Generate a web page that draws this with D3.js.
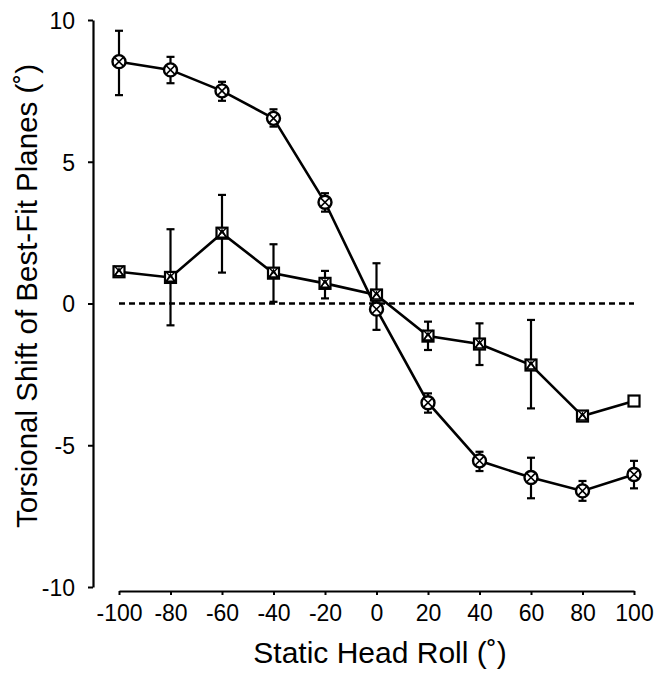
<!DOCTYPE html>
<html>
<head>
<meta charset="utf-8">
<script src="https://cdn.jsdelivr.net/npm/d3@7"></script>
<style>
  body { margin: 0; background: #fff; }
  svg { display: block; }
  text { font-family: "Liberation Sans", Arial, Helvetica, sans-serif; fill: #000; }
</style>
</head>
<body>
<div id="chart"></div>
<script>
// head roll angles (deg)
let rollAngles = [-100, -80, -60, -40, -20, 0, 20, 40, 60, 80, 100];

// circles series (large shift)
let shiftA = [8.53, 8.24, 7.5, 6.53, 3.57, -0.2, -3.5, -5.55, -6.14, -6.61, -6.03];
let aHigh = [9.62, 8.7, 7.82, 6.85, 3.89, 0.1, -3.17, -5.23, -5.44, -6.26, -5.55];
let aLow = [7.35, 7.77, 7.15, 6.24, 3.24, -0.93, -3.85, -5.91, -6.87, -6.96, -6.52];

// squares series (small shift)
let shiftB = [1.12, 0.92, 2.48, 1.07, 0.71, 0.3, -1.15, -1.43, -2.17, -3.97, -3.44];
let bHigh = [1.12, 2.62, 3.83, 2.09, 1.15, 1.42, -0.64, -0.7, -0.58, -3.87, -3.44];
let bLow = [1.12, -0.77, 1.09, 0.06, 0.18, 0.3, -1.64, -2.17, -3.7, -4.07, -3.44];

let yTicks = [-10, -5, 0, 5, 10];
let xTicks = rollAngles;
let zeroLine = [-100, 100];

(function () {
  let width = 668,
    height = 673;

  let svg = d3.select('#chart').append('svg')
    .attr('width', width)
    .attr('height', height);

  let xScale = d3.scaleLinear().domain([-100, 100]).range([119, 634]);
  let yScale = d3.scaleLinear().domain([-10, 10]).range([587, 20]);

  // plain hyphen minus like the original figure
  let fmt = (d) => String(d);

  // y axis
  let yAxis = svg.append('g')
    .attr('transform', 'translate(93,0)')
    .call(d3.axisLeft(yScale).tickValues(yTicks).tickFormat(fmt)
      .tickSize(5).tickSizeOuter(0).tickPadding(13));
  yAxis.select('.domain').attr('stroke-width', 2.2);
  yAxis.selectAll('.tick line').attr('stroke-width', 2);
  yAxis.selectAll('.tick text')
    .style('font-size', '23px')
    .attr('dy', '0.36em');

  // x axis
  let xAxis = svg.append('g')
    .attr('transform', 'translate(0,591)')
    .call(d3.axisBottom(xScale).tickValues(xTicks).tickFormat(fmt)
      .tickSize(4).tickSizeOuter(0).tickPadding(10));
  xAxis.select('.domain').attr('stroke-width', 2.2);
  xAxis.selectAll('.tick line').attr('stroke-width', 2);
  xAxis.selectAll('.tick text')
    .style('font-size', '23px')
    .attr('dy', '0.71em');

  // axis titles
  svg.append('text')
    .attr('x', 380)
    .attr('y', 663)
    .attr('text-anchor', 'middle')
    .style('font-size', '30px')
    .text('Static Head Roll (˚)');

  svg.append('text')
    .attr('transform', 'translate(37,296) rotate(-90)')
    .attr('text-anchor', 'middle')
    .style('font-size', '29.5px')
    .text('Torsional Shift of Best-Fit Planes (˚)');

  // zero reference
  svg.append('line')
    .attr('x1', xScale(zeroLine[0]))
    .attr('x2', xScale(zeroLine[1]))
    .attr('y1', yScale(0))
    .attr('y2', yScale(0))
    .attr('stroke', '#000')
    .attr('stroke-width', 2.5)
    .attr('stroke-dasharray', '6,4');

  let line = d3.line()
    .x((d) => xScale(d[0]))
    .y((d) => yScale(d[1]));

  let seriesA = rollAngles.map((x, i) => [x, shiftA[i], aLow[i], aHigh[i]]);
  let seriesB = rollAngles.map((x, i) => [x, shiftB[i], bLow[i], bHigh[i]]);

  [seriesB, seriesA].forEach((s) => {
    svg.append('path')
      .datum(s)
      .attr('d', line)
      .attr('fill', 'none')
      .attr('stroke', '#000')
      .attr('stroke-width', 2.6);
  });

  // error bars
  [seriesB, seriesA].forEach((s, k) => {
    let g = svg.append('g').attr('class', 'err' + k);
    let bars = s.filter((d) => d[3] - d[2] > 0.3);
    g.selectAll('line.v')
      .data(bars).enter()
      .append('line')
      .attr('x1', (d) => xScale(d[0]))
      .attr('x2', (d) => xScale(d[0]))
      .attr('y1', (d) => yScale(d[2]))
      .attr('y2', (d) => yScale(d[3]))
      .attr('stroke', '#000')
      .attr('stroke-width', 2.2);
    g.selectAll('line.hi')
      .data(bars).enter()
      .append('line')
      .attr('x1', (d) => xScale(d[0]) - 4)
      .attr('x2', (d) => xScale(d[0]) + 4)
      .attr('y1', (d) => yScale(d[3]))
      .attr('y2', (d) => yScale(d[3]))
      .attr('stroke', '#000')
      .attr('stroke-width', 2.2);
    g.selectAll('line.lo')
      .data(bars).enter()
      .append('line')
      .attr('x1', (d) => xScale(d[0]) - 4)
      .attr('x2', (d) => xScale(d[0]) + 4)
      .attr('y1', (d) => yScale(d[2]))
      .attr('y2', (d) => yScale(d[2]))
      .attr('stroke', '#000')
      .attr('stroke-width', 2.2);
  });

  // square markers with triangle and cross
  let sq = svg.append('g').selectAll('g.sq')
    .data(seriesB).enter()
    .append('g')
    .attr('transform', (d) => 'translate(' + xScale(d[0]) + ',' + yScale(d[1]) + ')');
  sq.append('rect')
    .attr('x', -5.5).attr('y', -5.5)
    .attr('width', 11).attr('height', 11)
    .attr('fill', '#fff')
    .attr('stroke', '#000')
    .attr('stroke-width', 2.2);
  sq.filter((d, i) => i < 10).append('path')
    .attr('d', 'M-4,4L0,-3L4,4Z')
    .attr('fill', 'none')
    .attr('stroke', '#000')
    .attr('stroke-width', 1.6);
  sq.filter((d, i) => i < 10).append('path')
    .attr('d', 'M-5,-6L5,4M5,-6L-5,4')
    .attr('stroke', '#000')
    .attr('stroke-width', 1.4);

  // circle markers with cross
  let ci = svg.append('g').selectAll('g.ci')
    .data(seriesA).enter()
    .append('g')
    .attr('transform', (d) => 'translate(' + xScale(d[0]) + ',' + yScale(d[1]) + ')');
  ci.append('circle')
    .attr('r', 6.5)
    .attr('fill', '#fff')
    .attr('stroke', '#000')
    .attr('stroke-width', 2.4);
  ci.append('path')
    .attr('d', 'M-4.2,-4.2L4.2,4.2M4.2,-4.2L-4.2,4.2')
    .attr('stroke', '#000')
    .attr('stroke-width', 1.6);
})();
</script>
</body>
</html>
